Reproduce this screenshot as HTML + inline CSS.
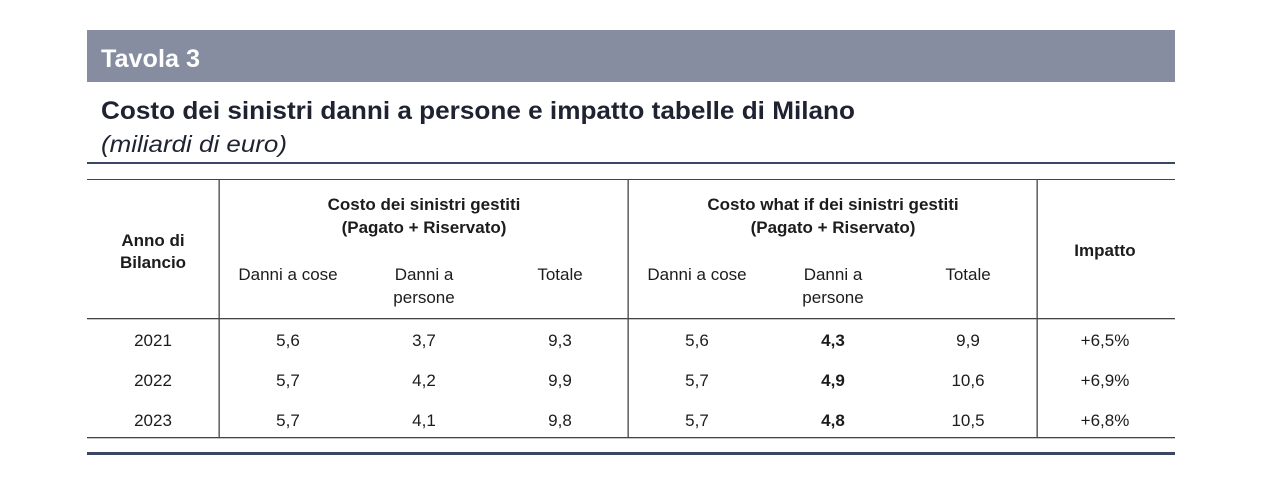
<!DOCTYPE html>
<html><head><meta charset="utf-8"><style>
body{margin:0;background:#fff;width:1270px;height:492px;overflow:hidden;font-family:"Liberation Sans",sans-serif}
</style></head><body>
<svg width="1270" height="492" xmlns="http://www.w3.org/2000/svg" font-family="Liberation Sans, sans-serif" fill="#1c1c1c">
<rect x="87" y="30" width="1088" height="52" fill="#878da0"/>
<text x="101" y="67" font-size="25" font-weight="bold" fill="#fff" textLength="99" lengthAdjust="spacingAndGlyphs">Tavola 3</text>
<text x="101" y="119" font-size="25" font-weight="bold" fill="#1f2230" textLength="754" lengthAdjust="spacingAndGlyphs">Costo dei sinistri danni a persone e impatto tabelle di Milano</text>
<text x="101" y="152" font-size="23" font-style="italic" fill="#1f2230" textLength="186" lengthAdjust="spacingAndGlyphs">(miliardi di euro)</text>
<rect x="87" y="162" width="1088" height="2" fill="#3b4761"/>
<rect x="87" y="179" width="1088" height="1" fill="#444"/>
<rect x="87" y="318" width="1088" height="1.3" fill="#444"/>
<rect x="87" y="437" width="1088" height="1.3" fill="#444"/>
<rect x="87" y="452" width="1088" height="3" fill="#3b4761"/>
<rect x="218.5" y="179" width="1.3" height="259" fill="#444"/>
<rect x="627.5" y="179" width="1.3" height="259" fill="#444"/>
<rect x="1036.5" y="179" width="1.3" height="259" fill="#444"/>
<g font-size="17" font-weight="bold" text-anchor="middle">
<text x="153" y="246">Anno di</text>
<text x="153" y="268">Bilancio</text>
<text x="424" y="210">Costo dei sinistri gestiti</text>
<text x="424" y="233">(Pagato + Riservato)</text>
<text x="833" y="210">Costo what if dei sinistri gestiti</text>
<text x="833" y="233">(Pagato + Riservato)</text>
<text x="1105" y="256">Impatto</text>
</g>
<g font-size="17" text-anchor="middle">
<text x="288" y="280">Danni a cose</text>
<text x="424" y="280">Danni a</text><text x="424" y="303">persone</text>
<text x="560" y="280">Totale</text>
<text x="697" y="280">Danni a cose</text>
<text x="833" y="280">Danni a</text><text x="833" y="303">persone</text>
<text x="968" y="280">Totale</text>
</g>
<g id="rows" font-size="17" text-anchor="middle"></g>
</svg>
<script>
const years=["2021","2022","2023"];
const cose=["5,6","5,7","5,7"];
const persone=["3,7","4,2","4,1"];
const totale=["9,3","9,9","9,8"];
const coseWI=["5,6","5,7","5,7"];
const personeWI=["4,3","4,9","4,8"];
const totaleWI=["9,9","10,6","10,5"];
const impatto=["+6,5%","+6,9%","+6,8%"];
const cols=[[years,153],[cose,288],[persone,424],[totale,560],[coseWI,697],[personeWI,833,true],[totaleWI,968],[impatto,1105]];
const g=document.getElementById('rows');
years.forEach((y,i)=>{
  cols.forEach(([arr,x,b])=>{
    const t=document.createElementNS('http://www.w3.org/2000/svg','text');
    
    
    t.setAttribute('x',x);t.setAttribute('y',346+i*40);
    if(b)t.setAttribute('font-weight','bold');
    t.textContent=arr[i];g.appendChild(t);
  });
});
</script>
</body></html>
